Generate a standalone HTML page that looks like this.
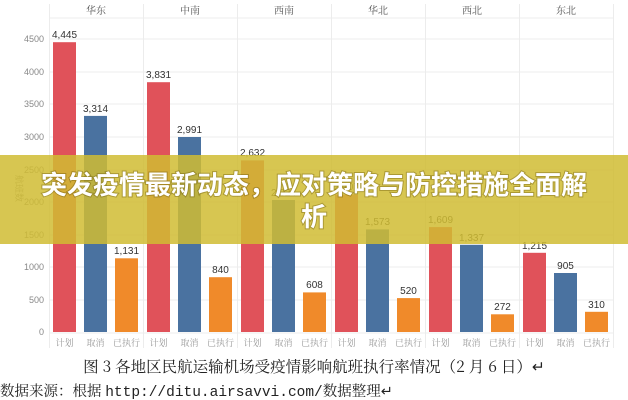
<!DOCTYPE html>
<html><head><meta charset="utf-8"><style>
body{margin:0;width:628px;height:400px;overflow:hidden;background:#fff;font-family:"Liberation Sans","Noto Sans CJK SC",sans-serif;}
</style></head><body>
<svg width="628" height="400" xmlns="http://www.w3.org/2000/svg" style="position:absolute;left:0;top:0">
<g stroke="#ececec" stroke-width="1">
<line x1="49" y1="39" x2="613" y2="39"/><line x1="49" y1="72" x2="613" y2="72"/><line x1="49" y1="104" x2="613" y2="104"/><line x1="49" y1="137" x2="613" y2="137"/><line x1="49" y1="170" x2="613" y2="170"/><line x1="49" y1="202" x2="613" y2="202"/><line x1="49" y1="235" x2="613" y2="235"/><line x1="49" y1="267" x2="613" y2="267"/><line x1="49" y1="300" x2="613" y2="300"/>
<line x1="49.5" y1="4" x2="49.5" y2="348"/><line x1="143.5" y1="4" x2="143.5" y2="348"/><line x1="237.5" y1="4" x2="237.5" y2="348"/><line x1="331.5" y1="4" x2="331.5" y2="348"/><line x1="425.5" y1="4" x2="425.5" y2="348"/><line x1="519.5" y1="4" x2="519.5" y2="348"/><line x1="613.5" y1="4" x2="613.5" y2="348"/>
<line x1="49" y1="18" x2="613" y2="18"/><line x1="49" y1="333" x2="613" y2="333"/>
</g>
<g font-size="9" fill="#888" text-anchor="end">
<text x="44" y="42">4500</text><text x="44" y="75">4000</text><text x="44" y="107">3500</text><text x="44" y="140">3000</text><text x="44" y="173">2500</text><text x="44" y="205">2000</text><text x="44" y="238">1500</text><text x="44" y="270">1000</text><text x="44" y="303">500</text><text x="44" y="335">0</text>
</g>
<text x="16" y="175" font-size="9" fill="#999" transform="rotate(90 16 175)">航班数</text>
<g font-size="10" fill="#555" text-anchor="middle" font-family="Noto Serif CJK SC,serif">
<text x="96" y="14">华东</text><text x="190" y="14">中南</text><text x="284" y="14">西南</text><text x="378" y="14">华北</text><text x="472" y="14">西北</text><text x="566" y="14">东北</text>
</g>
<g>
<rect x="53" y="42.2" width="23" height="289.8" fill="#e0525a"/><rect x="84" y="115.9" width="23" height="216.1" fill="#4a72a0"/><rect x="115" y="258.3" width="23" height="73.7" fill="#f08a2a"/>
<rect x="147" y="82.2" width="23" height="249.8" fill="#e0525a"/><rect x="178" y="137" width="23" height="195" fill="#4a72a0"/><rect x="209" y="277.2" width="23" height="54.8" fill="#f08a2a"/>
<rect x="241" y="160.4" width="23" height="171.6" fill="#e0525a"/><rect x="272" y="200" width="23" height="132" fill="#4a72a0"/><rect x="303" y="292.4" width="23" height="39.6" fill="#f08a2a"/>
<rect x="335" y="194.6" width="23" height="137.4" fill="#e0525a"/><rect x="366" y="229.4" width="23" height="102.6" fill="#4a72a0"/><rect x="397" y="298.1" width="23" height="33.9" fill="#f08a2a"/>
<rect x="429" y="227.1" width="23" height="104.9" fill="#e0525a"/><rect x="460" y="244.8" width="23" height="87.2" fill="#4a72a0"/><rect x="491" y="314.3" width="23" height="17.7" fill="#f08a2a"/>
<rect x="523" y="252.8" width="23" height="79.2" fill="#e0525a"/><rect x="554" y="273" width="23" height="59" fill="#4a72a0"/><rect x="585" y="311.8" width="23" height="20.2" fill="#f08a2a"/>
</g>
<g font-size="10" fill="#333" text-anchor="middle">
<text x="64.5" y="38">4,445</text><text x="95.5" y="112">3,314</text><text x="126.5" y="254">1,131</text>
<text x="158.5" y="78">3,831</text><text x="189.5" y="133">2,991</text><text x="220.5" y="273">840</text>
<text x="252.5" y="156">2,632</text><text x="283.5" y="196">2,024</text><text x="314.5" y="288">608</text>
<text x="346.5" y="190">2,107</text><text x="377.5" y="225">1,573</text><text x="408.5" y="294">520</text>
<text x="440.5" y="223">1,609</text><text x="471.5" y="241">1,337</text><text x="502.5" y="310">272</text>
<text x="534.5" y="249">1,215</text><text x="565.5" y="269">905</text><text x="596.5" y="308">310</text>
</g>
<g font-size="9" fill="#999" text-anchor="middle" font-family="Noto Serif CJK SC,serif">
<text x="64.5" y="346">计划</text><text x="95.5" y="346">取消</text><text x="126.5" y="346">已执行</text>
<text x="158.5" y="346">计划</text><text x="189.5" y="346">取消</text><text x="220.5" y="346">已执行</text>
<text x="252.5" y="346">计划</text><text x="283.5" y="346">取消</text><text x="314.5" y="346">已执行</text>
<text x="346.5" y="346">计划</text><text x="377.5" y="346">取消</text><text x="408.5" y="346">已执行</text>
<text x="440.5" y="346">计划</text><text x="471.5" y="346">取消</text><text x="502.5" y="346">已执行</text>
<text x="534.5" y="346">计划</text><text x="565.5" y="346">取消</text><text x="596.5" y="346">已执行</text>
</g>
<text x="314" y="372" font-size="15.5" fill="#222" text-anchor="middle" font-family="Noto Serif CJK SC,serif">图 3 各地区民航运输机场受疫情影响航班执行率情况（2 月 6 日）↵</text>
<text x="0" y="396" font-size="14.5" fill="#222" font-family="Noto Serif CJK SC,serif">数据来源：根据 <tspan font-family="Liberation Mono,monospace">http://ditu.airsavvi.com/</tspan>数据整理↵</text>
<rect x="0" y="155" width="628" height="89" fill="rgb(208,188,50)" fill-opacity="0.85"/>
<g font-size="26" font-weight="bold" fill="#fff" text-anchor="middle" style="paint-order:stroke" stroke="rgba(90,70,0,0.35)" stroke-width="2">
<text x="314" y="194">突发疫情最新动态，应对策略与防控措施全面解</text>
<text x="314" y="226">析</text>
</g>
</svg>
</body></html>
